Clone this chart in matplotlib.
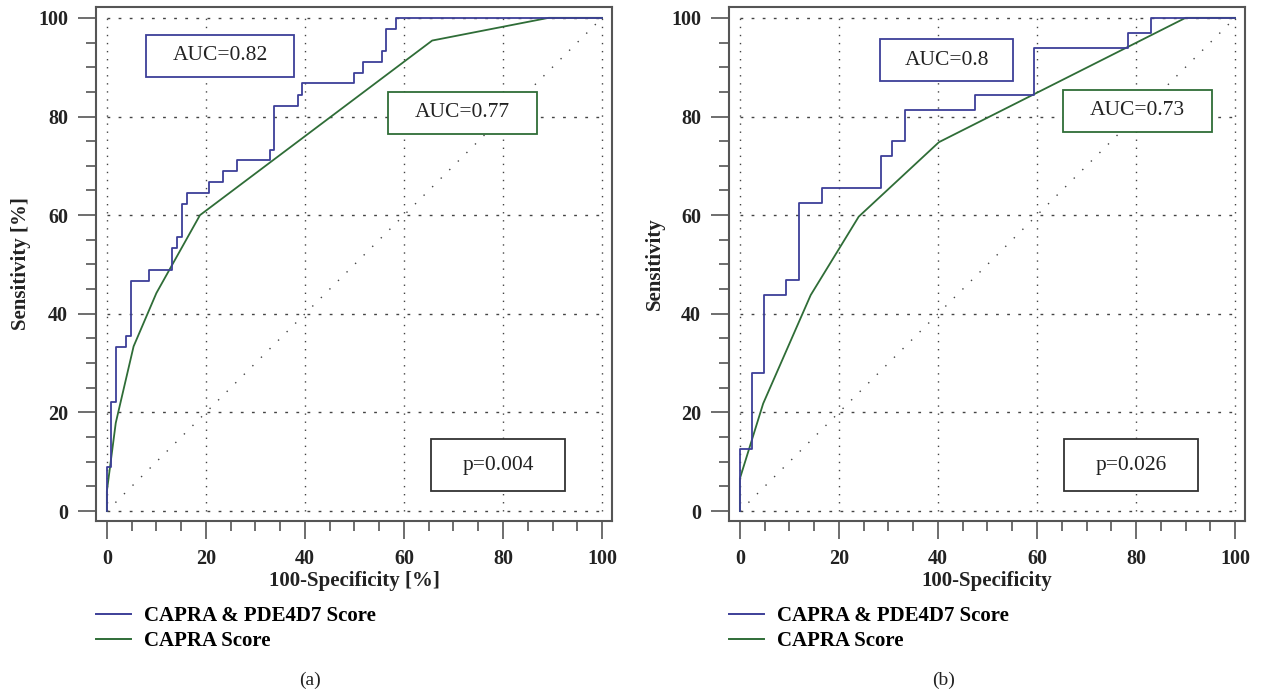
import numpy as np
import matplotlib
matplotlib.use("Agg")
import matplotlib.pyplot as plt
from matplotlib.patches import Rectangle
from matplotlib.lines import Line2D
from matplotlib.ticker import MultipleLocator

# ROC data (percent)
# panel (a)
a_combo_fpr = [0, 0, 0.8, 1.8, 3.8, 4.8, 8.5, 13.1, 14.1, 15.1, 16.1, 20.7, 23.4,
               26.3, 32.9, 33.8, 38.7, 39.5, 49.9, 51.7, 55.5, 56.4, 58.4, 100]
a_combo_tpr = [0, 8.9, 22.2, 33.3, 35.6, 46.7, 48.9, 53.3, 55.6, 62.2, 64.4, 66.7, 68.9,
               71.1, 73.3, 82.2, 84.4, 86.7, 88.9, 91.1, 93.3, 97.8, 100, 100]
a_capra_fpr = [0, 0, 1.8, 5.4, 10.0, 18.8, 65.7, 89.2, 100]
a_capra_tpr = [0, 4.0, 17.9, 33.4, 44.2, 60.0, 95.4, 100, 100]

# panel (b)
b_combo_fpr = [0, 0, 2.4, 4.8, 9.4, 11.9, 16.6, 28.4, 30.8, 33.3, 47.4, 59.4, 78.4, 83.1, 100]
b_combo_tpr = [0, 12.5, 28.1, 43.8, 46.9, 62.5, 65.6, 71.9, 75.0, 81.3, 84.4, 93.8, 96.9, 100, 100]
b_capra_fpr = [0, 0, 4.7, 14.3, 24.0, 40.2, 90.0, 100]
b_capra_tpr = [0, 6.6, 21.8, 43.8, 59.7, 74.8, 100, 100]

auc_labels = [("AUC=0.82", "AUC=0.77", "p=0.004"), ("AUC=0.8", "AUC=0.73", "p=0.026")]
xlabels = ["100-Specificity [%]", "100-Specificity"]
ylabels = ["Sensitivity [%]", "Sensitivity"]
panel_tags = ["(a)", "(b)"]
legend_labels = ["CAPRA & PDE4D7 Score", "CAPRA Score"]

# box placement (x, y, w, h) in data units, per panel: combo, capra, p
boxes = [[(7.9, 88.0, 29.9, 8.6), (56.8, 76.5, 30.1, 8.5), (65.5, 4.1, 27.0, 10.5)],
         [(28.3, 87.2, 26.9, 8.5), (65.3, 76.9, 30.1, 8.5), (65.5, 4.1, 27.0, 10.5)]]

BLUE = "#3d3f98"
GREEN = "#2f6d37"
FRAME = "#555555"
SERIF = ["Liberation Serif", "DejaVu Serif"]

plt.rcParams['font.family'] = SERIF

fig = plt.figure(figsize=(12.61, 6.92), dpi=100)
axes = [fig.add_axes([0.0761, 0.2471, 0.4092, 0.7428]),
        fig.add_axes([0.5781, 0.2471, 0.4092, 0.7428])]

curves = [(a_combo_fpr, a_combo_tpr, a_capra_fpr, a_capra_tpr),
          (b_combo_fpr, b_combo_tpr, b_capra_fpr, b_capra_tpr)]

for i, ax in enumerate(axes):
    cf, ct, pf, pt = curves[i]

    for g in range(0, 101, 20):
        ax.plot([g, g], [0, 100], color="#444444", lw=1.0, ls=(0, (1, 4.8)), zorder=1)
        ax.plot([0, 100], [g, g], color="#444444", lw=1.0, ls=(0, (2, 6)), zorder=1)
    ax.plot([0, 100], [0, 100], color="#444444", lw=1.0, ls=(0, (1, 7.7)), zorder=1)

    ax.step(cf, ct, where='post', color=BLUE, lw=1.3, zorder=3)
    ax.plot(pf, pt, color=GREEN, lw=1.3, zorder=2)

    ax.set_xlim(-2.2, 102)
    ax.set_ylim(-2.0, 102.2)
    ax.xaxis.set_major_locator(MultipleLocator(20))
    ax.xaxis.set_minor_locator(MultipleLocator(5))
    ax.yaxis.set_major_locator(MultipleLocator(20))
    ax.yaxis.set_minor_locator(MultipleLocator(5))
    ax.tick_params(which='major', direction='out', length=13, width=1.2,
                   color=FRAME, pad=7, labelsize=14.5)
    ax.tick_params(which='minor', direction='out', length=7, width=1.2, color=FRAME)
    for lab in ax.get_xticklabels() + ax.get_yticklabels():
        lab.set_fontweight('bold')
        lab.set_color("#222222")
    for sp in ax.spines.values():
        sp.set_color(FRAME)
        sp.set_linewidth(1.5)

    ax.set_xlabel(xlabels[i], fontsize=15, fontweight='bold', color="#222222")
    ax.xaxis.set_label_coords(0.5, -0.098)
    ax.set_ylabel(ylabels[i], fontsize=15, fontweight='bold', color="#222222")
    ax.yaxis.set_label_coords(-0.125, 0.5)

    edge_colors = [BLUE, GREEN, "#333333"]
    for (bx, by, bw, bh), txt, ec in zip(boxes[i], auc_labels[i], edge_colors):
        ax.add_patch(Rectangle((bx, by), bw, bh, fill=True, facecolor='white',
                               edgecolor=ec, lw=1.3, zorder=4))
        ax.text(bx + bw / 2, by + bh / 2, txt, ha='center', va='center',
                fontsize=15.5, color="#222222", zorder=5)

    handles = [Line2D([], [], color=BLUE, lw=1.4), Line2D([], [], color=GREEN, lw=1.4)]
    leg = ax.legend(handles, legend_labels, loc='upper left', bbox_to_anchor=(0, -0.165),
                    frameon=False, borderpad=0, borderaxespad=0, handlelength=1.7,
                    handletextpad=0.6, labelspacing=0.25,
                    prop={'family': SERIF, 'weight': 'bold', 'size': 15})

fig.text(0.246, 0.017, panel_tags[0], ha='center', va='center', fontsize=14, color="#222222")
fig.text(0.748, 0.017, panel_tags[1], ha='center', va='center', fontsize=14, color="#222222")

fig.savefig("out.png", dpi=100)
